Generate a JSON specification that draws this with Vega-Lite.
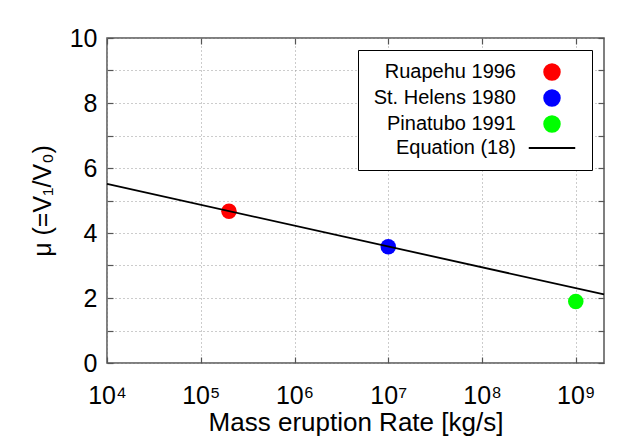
{
  "$schema": "https://vega.github.io/schema/vega-lite/v6.json",
  "width": 497,
  "height": 325,
  "autosize": "none",
  "padding": {"left": 107, "top": 38, "right": 23, "bottom": 75},
  "background": "white",
  "config": {
    "font": "Liberation Sans",
    "view": {"stroke": "#555555", "strokeWidth": 1.5},
    "axis": {
      "labelFont": "Liberation Sans",
      "titleFont": "Liberation Sans",
      "labelColor": "black",
      "titleColor": "black",
      "titleFontWeight": "normal",
      "domain": false,
      "tickColor": "#555555",
      "tickWidth": 1.2,
      "tickSize": -6,
      "gridColor": "#999999",
      "gridDash": [1, 3],
      "gridWidth": 1
    },
    "legend": {
      "labelFont": "Liberation Sans",
      "labelColor": "black",
      "title": null,
      "orient": "top-right",
      "offset": 12,
      "padding": 12,
      "strokeColor": "black",
      "fillColor": "white",
      "labelFontSize": 20,
      "labelAlign": "right",
      "labelOffset": -46,
      "symbolOffset": 172,
      "rowPadding": 2,
      "symbolSize": 240,
      "symbolStrokeWidth": 2
    }
  },
  "resolve": {"axis": {"x": "independent", "y": "independent"}},
  "layer": [
    {
      "data": {
        "values": [
          {"rate": 200000, "mu": 4.67, "series": "Ruapehu 1996"},
          {"rate": 10000000, "mu": 3.58, "series": "St. Helens 1980"},
          {"rate": 1000000000, "mu": 1.89, "series": "Pinatubo 1991"}
        ]
      },
      "mark": {"type": "point", "filled": true, "size": 240, "opacity": 1},
      "encoding": {
        "x": {
          "field": "rate", "type": "quantitative",
          "scale": {"type": "log", "domain": [10000, 2000000000], "nice": false},
          "axis": {
            "title": "Mass eruption Rate [kg/s]",
            "titleFontSize": 26,
            "titlePadding": 1,
            "labelFontSize": 25,
            "labelPadding": 26,
            "values": [10000, 100000, 1000000, 10000000, 100000000, 1000000000],
            "labelExpr": "'10' + ['⁰','¹','²','³','⁴','⁵','⁶','⁷','⁸','⁹'][round(log(datum.value)/LN10)]",
            "labelFlush": false,
            "grid": true
          }
        },
        "y": {
          "field": "mu", "type": "quantitative",
          "scale": {"domain": [0, 10], "nice": false, "zero": true},
          "axis": {
            "title": "μ (=V₁/V₀)",
            "titleFontSize": 25,
            "titlePadding": 14,
            "labelFontSize": 25,
            "labelPadding": 16,
            "values": [0, 1, 2, 3, 4, 5, 6, 7, 8, 9, 10],
            "labelExpr": "datum.value % 2 === 0 ? datum.label : ''",
            "grid": true
          }
        },
        "color": {
          "field": "series", "type": "nominal",
          "scale": {
            "domain": ["Ruapehu 1996", "St. Helens 1980", "Pinatubo 1991", "Equation (18)"],
            "range": ["#ff0000", "#0000ff", "#00ff00", "#000000"]
          },
          "legend": {
            "encode": {
              "symbols": {
                "stroke": {"value": {"signal": "datum.value === 'Equation (18)' ? 'black' : 'transparent'"}},
                "strokeWidth": {"value": 2}
              }
            }
          }
        },
        "shape": {
          "field": "series", "type": "nominal",
          "scale": {
            "domain": ["Ruapehu 1996", "St. Helens 1980", "Pinatubo 1991", "Equation (18)"],
            "range": ["circle", "circle", "circle", "M-3,0H3"]
          },
          "legend": {
            "encode": {
              "symbols": {
                "stroke": {"value": {"signal": "datum.value === 'Equation (18)' ? 'black' : 'transparent'"}},
                "strokeWidth": {"value": 2}
              }
            }
          }
        }
      }
    },
    {
      "data": {
        "values": [
          {"rate": 10000, "mu": 5.51, "series": "Equation (18)"},
          {"rate": 2000000000, "mu": 2.11, "series": "Equation (18)"}
        ]
      },
      "mark": {"type": "line", "strokeWidth": 1.8},
      "encoding": {
        "x": {
          "field": "rate", "type": "quantitative",
          "scale": {"type": "log", "domain": [10000, 2000000000], "nice": false},
          "axis": {
            "orient": "top", "title": null, "labels": false, "grid": false,
            "values": [10000, 100000, 1000000, 10000000, 100000000, 1000000000]
          }
        },
        "y": {
          "field": "mu", "type": "quantitative",
          "scale": {"domain": [0, 10], "nice": false},
          "axis": {
            "orient": "right", "title": null, "labels": false, "grid": false,
            "values": [0, 1, 2, 3, 4, 5, 6, 7, 8, 9, 10]
          }
        },
        "color": {
          "field": "series", "type": "nominal",
          "scale": {
            "domain": ["Ruapehu 1996", "St. Helens 1980", "Pinatubo 1991", "Equation (18)"],
            "range": ["#ff0000", "#0000ff", "#00ff00", "#000000"]
          }
        }
      }
    }
  ]
}
